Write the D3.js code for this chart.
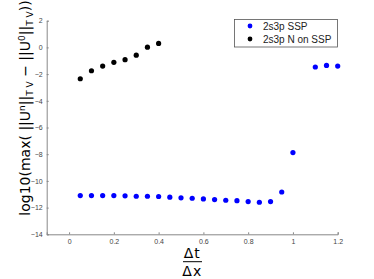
<!DOCTYPE html>
<html><head><meta charset="utf-8">
<script src="https://cdn.jsdelivr.net/npm/d3@7"></script>
<style>body{margin:0;background:#fff}svg{display:block}</style>
</head><body>
<script>
const xSSP = [0.05,0.1,0.15,0.2,0.25,0.3,0.35,0.4,0.45,0.5,0.55,0.6,0.65,0.7,0.75,0.8,0.85,0.9,0.95,1.0,1.1,1.15,1.2];
const ySSP = [-11.1,-11.1,-11.1,-11.1,-11.12,-11.15,-11.15,-11.17,-11.22,-11.27,-11.3,-11.35,-11.4,-11.45,-11.48,-11.55,-11.6,-11.55,-10.83,-7.88,-1.47,-1.35,-1.4];
const xNon = [0.05,0.1,0.15,0.2,0.25,0.3,0.35,0.4];
const yNon = [-2.35,-1.75,-1.4,-1.12,-0.92,-0.58,0.02,0.3];
const xTicks = [0,0.2,0.4,0.6,0.8,1,1.2];
const yTicks = [2,0,-2,-4,-6,-8,-10,-12,-14];
const seriesNames = ["2s3p SSP","2s3p N on SSP"];
const seriesColors = ["#0000ff","#000000"];

const W=374,H=279;
const svg=d3.select("body").append("svg").attr("width",W).attr("height",H);
const x=d3.scaleLinear().domain([-0.1,1.2]).range([46.7,337.7]);
const y=d3.scaleLinear().domain([-14,2]).range([234.3,20.7]);
const axisColor="#888";
const font="Liberation Sans, Arial, sans-serif";
const lfont="DejaVu Sans, sans-serif";

const gx=svg.append("g").attr("transform",`translate(0,${y(-14)})`)
  .call(d3.axisBottom(x).tickValues(xTicks).tickSizeInner(-2).tickSizeOuter(-2).tickPadding(5).tickFormat(d3.format("")));
const gy=svg.append("g").attr("transform",`translate(${x(-0.1)},0)`)
  .call(d3.axisLeft(y).tickValues(yTicks).tickSizeInner(-2).tickSizeOuter(-2).tickPadding(4).tickFormat(d=>d<0?"\u2212"+Math.abs(d):d));
[gx,gy].forEach(g=>{
  g.selectAll("path,line").attr("stroke",axisColor);
  g.selectAll("text").attr("fill","#444").style("font-family",font).style("font-size","7px");
});

svg.append("g").selectAll("circle").data(xSSP.map((d,i)=>[d,ySSP[i]])).join("circle")
  .attr("cx",d=>x(d[0])).attr("cy",d=>y(d[1])).attr("r",2.6).attr("fill",seriesColors[0]);
svg.append("g").selectAll("circle").data(xNon.map((d,i)=>[d,yNon[i]])).join("circle")
  .attr("cx",d=>x(d[0])).attr("cy",d=>y(d[1])).attr("r",2.6).attr("fill",seriesColors[1]);

// legend
const lg=svg.append("g");
lg.append("rect").attr("x",234.5).attr("y",19.5).attr("width",103).attr("height",27.5)
  .attr("fill","#fff").attr("stroke","#555").attr("stroke-width",0.8);
seriesNames.forEach((n,i)=>{
  lg.append("circle").attr("cx",250).attr("cy",26+i*13).attr("r",2.4).attr("fill",seriesColors[i]);
  lg.append("text").attr("x",263).attr("y",26+i*13).attr("dy","0.36em")
    .style("font-family",font).style("font-size","10px").attr("fill","#222").text(n);
});

// x label fraction
const cx=192.3;
svg.append("text").attr("x",cx).attr("y",258).attr("text-anchor","middle")
  .style("font-family",lfont).style("font-size","14px").style("letter-spacing","1px").text("\u0394t");
svg.append("line").attr("x1",183).attr("x2",202).attr("y1",261.7).attr("y2",261.7).attr("stroke","#000").attr("stroke-width",1);
svg.append("text").attr("x",cx).attr("y",276).attr("text-anchor","middle")
  .style("font-family",lfont).style("font-size","14px").style("letter-spacing","1px").text("\u0394x");

// y label
const yl=svg.append("text").attr("transform","translate(30,108) rotate(-90)").attr("text-anchor","middle")
  .style("font-family",lfont).style("font-size","14px").attr("fill","#000");
const parts=[["log10(max( ||U",0],["n",1],["||",0],["T V",-1],[" \u2212 ||U",0],["0",1],["||",0],["T V",-1],["))",0]];
let prev=0;
parts.forEach(([t,s])=>{
  const ts=yl.append("tspan").text(t);
  const shift = s===1?-5:(s===-1?3:0);
  ts.attr("dy",shift-prev); prev=shift;
  if(s!==0) ts.style("font-size","9px");
});
</script>
</body></html>
